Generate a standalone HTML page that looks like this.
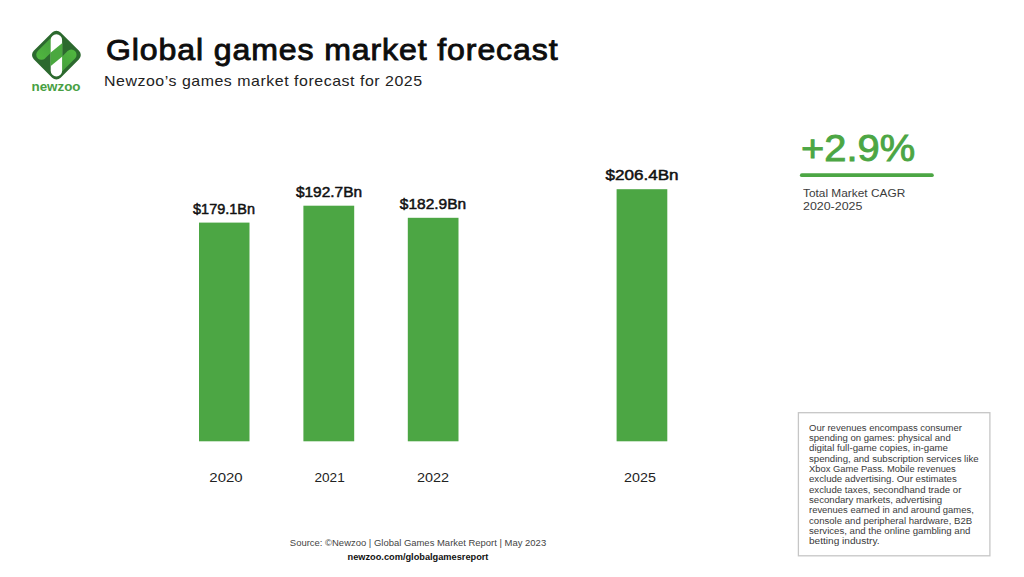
<!DOCTYPE html>
<html>
<head>
<meta charset="utf-8">
<title>Global games market forecast</title>
<style>
  html, body { margin:0; padding:0; }
  body { width:1024px; height:577px; background:#ffffff; position:relative; overflow:hidden;
         font-family:"Liberation Sans", sans-serif; color:#111; }
  .abs { position:absolute; white-space:nowrap; line-height:1; }
  .l { transform-origin:0 0; }
  .c { transform-origin:50% 0; }
  #title { left:106.2px; top:35.9px; font-size:28.8px; color:#0d0d0d; -webkit-text-stroke:0.85px #0d0d0d; letter-spacing:0.8px; transform:scaleX(1.113); }
  #subtitle { left:104px; top:74px; font-size:14.8px; color:#222; letter-spacing:0.5px; transform:scaleX(1.075); }
  .val { font-size:14.8px; color:#111; -webkit-text-stroke:0.5px #111; text-align:center; }
  .yr { font-size:13.6px; color:#222; }
  #cagr { left:801.2px; top:129.9px; font-size:37.7px; color:#4ca644; -webkit-text-stroke:0.9px #4ca644; transform:scaleX(1.058); }
  .ct { left:802.5px; font-size:10.9px; color:#3c3c3c; }
  .nt { left:809px; font-size:8.4px; color:#3a3a3a; }
  #src1 { left:417.5px; top:538.7px; font-size:8.8px; color:#444; }
  #src2 { left:417.5px; top:552.7px; font-size:8.8px; color:#111; font-weight:bold; }
  #logotxt { left:56.1px; top:79.7px; font-size:13px; font-weight:bold; color:#48a043; }
</style>
</head>
<body>
<svg id="logo" class="abs" style="left:28px;top:26px" width="60" height="60" viewBox="28 26 60 60">
  <defs>
    <clipPath id="lc"><rect x="28" y="26" width="24" height="60"/></clipPath>
    <clipPath id="rc"><rect x="60.8" y="26" width="27" height="60"/></clipPath>
    <linearGradient id="lg" gradientUnits="userSpaceOnUse" x1="38" y1="58" x2="52" y2="44"><stop offset="0" stop-color="#50b63f"/><stop offset="1" stop-color="#47a33d"/></linearGradient>
    <linearGradient id="rg" gradientUnits="userSpaceOnUse" x1="75" y1="51" x2="61" y2="65"><stop offset="0" stop-color="#50b63f"/><stop offset="1" stop-color="#47a33d"/></linearGradient>
  </defs>
  <rect x="37.4" y="36.1" width="38" height="38" rx="6" transform="rotate(45 56.4 55.1)" fill="#2c692e"/>
  <g clip-path="url(#lc)">
    <line x1="41.5" y1="54.6" x2="56.5" y2="39.6" stroke="url(#lg)" stroke-width="10.5" stroke-linecap="round"/>
  </g>
  <g clip-path="url(#rc)">
    <line x1="71.3" y1="54.8" x2="56.3" y2="69.8" stroke="url(#rg)" stroke-width="10.5" stroke-linecap="round"/>
  </g>
  <rect x="50.7" y="34.3" width="11.4" height="42.2" rx="5.7" fill="#ffffff"/>
  <polygon points="50.45,52.7 62.35,43.1 62.35,56.6 50.45,66.2" fill="#4aa83f"/>
</svg>
<div id="logotxt" class="abs c" style="transform:translateX(-50%) scaleX(1.03)">newzoo</div>
<div id="title" class="abs l">Global games market forecast</div>
<div id="subtitle" class="abs l">Newzoo’s games market forecast for 2025</div>

<svg class="abs" style="left:190px;top:180px" width="490" height="270" viewBox="190 180 490 270">
  <rect x="199" y="222.6" width="50.5" height="218.7" fill="#4ca644"/>
  <rect x="303.4" y="205.7" width="50.8" height="235.6" fill="#4ca644"/>
  <rect x="407.8" y="217.8" width="50.7" height="223.5" fill="#4ca644"/>
  <rect x="616.6" y="189.2" width="50.7" height="252.1" fill="#4ca644"/>
</svg>

<div class="abs val c" style="left:224px;top:201.7px;transform:translateX(-50%) scaleX(0.977)">$179.1Bn</div>
<div class="abs val c" style="left:328.7px;top:185.4px;transform:translateX(-50%) scaleX(1.045)">$192.7Bn</div>
<div class="abs val c" style="left:432.9px;top:197.2px;transform:translateX(-50%) scaleX(1.047)">$182.9Bn</div>
<div class="abs val c" style="left:642px;top:168.2px;transform:translateX(-50%) scaleX(1.151)">$206.4Bn</div>

<div class="abs yr c" style="left:226.3px;top:471.3px;transform:translateX(-50%) scaleX(1.1)">2020</div>
<div class="abs yr c" style="left:329.6px;top:471.3px;transform:translateX(-50%) scaleX(1.0)">2021</div>
<div class="abs yr c" style="left:433.2px;top:471.3px;transform:translateX(-50%) scaleX(1.06)">2022</div>
<div class="abs yr c" style="left:640.1px;top:471.3px;transform:translateX(-50%) scaleX(1.05)">2025</div>

<div id="cagr" class="abs l">+2.9%</div>
<svg class="abs" style="left:790px;top:165px" width="160" height="20" viewBox="790 165 160 20"><line x1="801.8" y1="175.2" x2="931.9" y2="175.2" stroke="#4ca644" stroke-width="3.8" stroke-linecap="round"/></svg>
<div class="abs ct l" style="top:187.7px;transform:scaleX(1.09)">Total Market CAGR</div>
<div class="abs ct l" style="top:200.7px;transform:scaleX(1.14)">2020-2025</div>

<svg class="abs" style="left:790px;top:404px" width="210" height="160" viewBox="790 404 210 160"><rect x="798.4" y="412.7" width="191.5" height="143.1" fill="none" stroke="#c6c6c6" stroke-width="1.3"/></svg>
<div class="abs nt l" style="top:423.75px;transform:scaleX(1.133)">Our revenues encompass consumer</div>
<div class="abs nt l" style="top:434.06px;transform:scaleX(1.14)">spending on games: physical and</div>
<div class="abs nt l" style="top:444.37px;transform:scaleX(1.1575)">digital full-game copies, in-game</div>
<div class="abs nt l" style="top:454.68px;transform:scaleX(1.149)">spending, and subscription services like</div>
<div class="abs nt l" style="top:464.99px;transform:scaleX(1.118)">Xbox Game Pass. Mobile revenues</div>
<div class="abs nt l" style="top:475.30px;transform:scaleX(1.15)">exclude advertising. Our estimates</div>
<div class="abs nt l" style="top:485.61px;transform:scaleX(1.148)">exclude taxes, secondhand trade or</div>
<div class="abs nt l" style="top:495.92px;transform:scaleX(1.1485)">secondary markets, advertising</div>
<div class="abs nt l" style="top:506.23px;transform:scaleX(1.127)">revenues earned in and around games,</div>
<div class="abs nt l" style="top:516.54px;transform:scaleX(1.145)">console and peripheral hardware, B2B</div>
<div class="abs nt l" style="top:526.85px;transform:scaleX(1.148)">services, and the online gambling and</div>
<div class="abs nt l" style="top:537.16px;transform:scaleX(1.205)">betting industry.</div>

<div id="src1" class="abs c" style="transform:translateX(-50%) scaleX(1.075)">Source: ©Newzoo | Global Games Market Report | May 2023</div>
<div id="src2" class="abs c" style="transform:translateX(-50%) scaleX(1.048)">newzoo.com/globalgamesreport</div>
</body>
</html>
